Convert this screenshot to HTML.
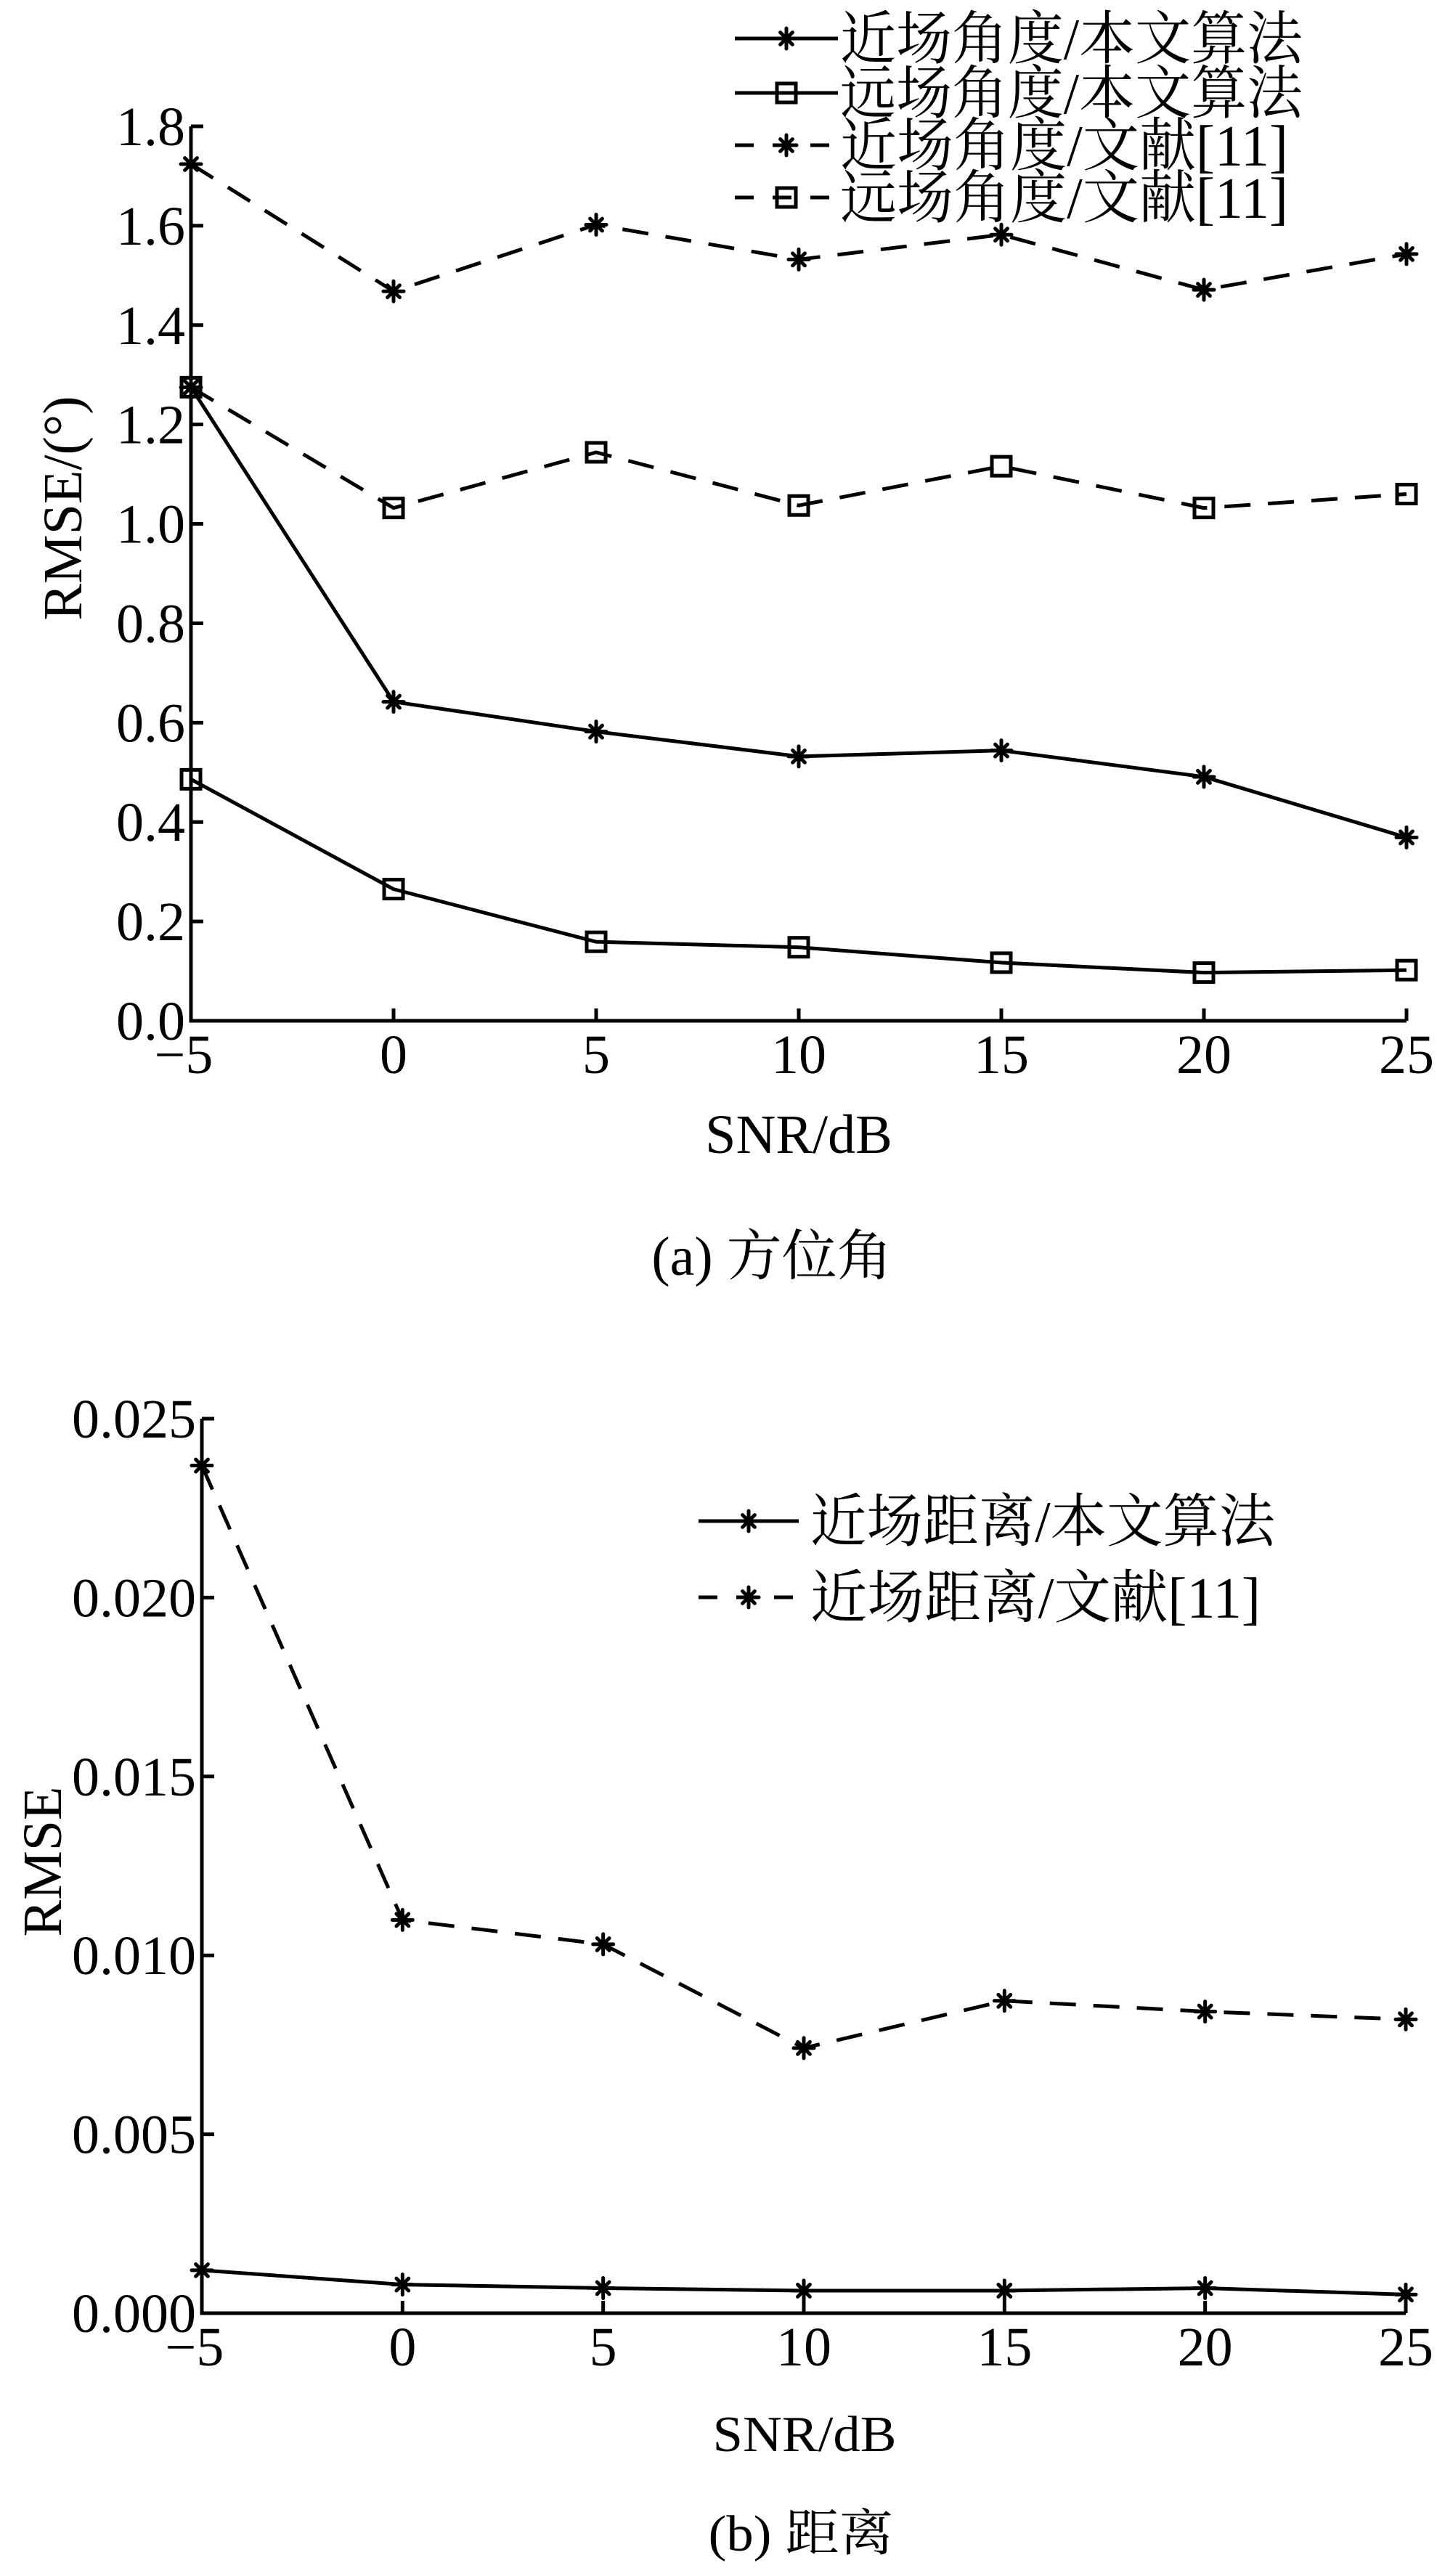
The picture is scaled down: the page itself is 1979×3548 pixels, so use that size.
<!DOCTYPE html>
<html><head><meta charset="utf-8">
<style>
html,body{margin:0;padding:0;background:#fff;}
svg{display:block;}
text{font-family:"Liberation Serif","Noto Serif CJK SC","Noto Sans CJK SC",serif;fill:#000;}
</style></head>
<body>
<svg id="chart" width="1979" height="3548" viewBox="0 0 1979 3548" xmlns="http://www.w3.org/2000/svg"></svg>
<script>
const snr = [-5, 0, 5, 10, 15, 20, 25];
const xTickLabels = ["\u22125", "0", "5", "10", "15", "20", "25"];
// panel a (azimuth)
const nearOursA = [1.275, 0.642, 0.582, 0.532, 0.544, 0.491, 0.369];
const farOursA  = [0.486, 0.265, 0.159, 0.148, 0.117, 0.097, 0.102];
const nearLitA  = [1.724, 1.468, 1.602, 1.532, 1.582, 1.471, 1.543];
const farLitA   = [1.275, 1.032, 1.144, 1.037, 1.116, 1.032, 1.060];
const yTicksA = [0, 0.2, 0.4, 0.6, 0.8, 1.0, 1.2, 1.4, 1.6, 1.8];
const yTickLabelsA = ["0.0","0.2","0.4","0.6","0.8","1.0","1.2","1.4","1.6","1.8"];
// panel b (range)
const nearOursB = [0.0012, 0.0008, 0.0007, 0.00063, 0.00063, 0.0007, 0.00052];
const nearLitB  = [0.02369, 0.01099, 0.01031, 0.00741, 0.00873, 0.00843, 0.00821];
const yTicksB = [0, 0.005, 0.010, 0.015, 0.020, 0.025];
const yTickLabelsB = ["0.000","0.005","0.010","0.015","0.020","0.025"];

const NS = "http://www.w3.org/2000/svg";
const svg = document.getElementById("chart");
function mk(tag, attrs, parent) {
  const e = document.createElementNS(NS, tag);
  for (const k in attrs) e.setAttribute(k, attrs[k]);
  (parent || svg).appendChild(e);
  return e;
}
function star(g, x, y) {
  const s = mk("g", {stroke:"#000","stroke-width":5,"stroke-linecap":"round"}, g);
  
  
  const r = 14;
  mk("line",{x1:x-r,y1:y,x2:x+r,y2:y},s);
  mk("line",{x1:x,y1:y-r,x2:x,y2:y+r},s);
  mk("line",{x1:x-r*0.6,y1:y-r*0.6,x2:x+r*0.6,y2:y+r*0.6},s);
  mk("line",{x1:x-r*0.6,y1:y+r*0.6,x2:x+r*0.6,y2:y-r*0.6},s);
}
function square(g, x, y) {
  const s = mk("rect",{x:x-13,y:y-13,width:26,height:26,fill:"none",stroke:"#000","stroke-width":5},g);
  
  
}

function panel(cfg) {
  const {x0, x1, y0, yTop, yMax, ticks, tickLabels, prefix} = cfg;
  const sx = v => x0 + (v - snr[0]) / (snr[snr.length-1] - snr[0]) * (x1 - x0);
  const sy = v => y0 - v / yMax * (y0 - yTop);
  const ax = mk("g",{stroke:"#000","stroke-width":5,fill:"none"});
  
  
  mk("path",{d:`M${x0} ${yTop} V${y0} H${x1}`},ax);
  ticks.forEach((t,i) => {
    mk("line",{x1:x0,y1:sy(t),x2:x0+17,y2:sy(t)},ax);
    const tl = mk("text",{x:x0-8,y:sy(t)+26,"text-anchor":"end","font-size":76});
    tl.textContent = tickLabels[i];
    
    
  });
  snr.forEach((s,i) => {
    mk("line",{x1:sx(s),y1:y0,x2:sx(s),y2:y0-17},ax);
    const tl = mk("text",{x:sx(s)-(i===0?10:0),y:y0+72,"text-anchor":"middle","font-size":76});
    tl.textContent = xTickLabels[i];
    
    
  });
  cfg.series.forEach(se => {
    const g = mk("g",{});
    
    
    const pts = se.data.map((v,i) => sx(snr[i]) + "," + sy(v)).join(" ");
    const pl = mk("polyline",{points:pts,fill:"none",stroke:"#000","stroke-width":5,"stroke-linejoin":"round"},g);
    if (se.dash) pl.setAttribute("stroke-dasharray","36 24");
    se.data.forEach((v,i) => (se.marker==="star"?star:square)(g, sx(snr[i]), sy(v)));
  });
}

panel({x0:263, x1:1937, y0:1406, yTop:174, yMax:1.8, ticks:yTicksA, tickLabels:yTickLabelsA, prefix:"azimuth",
  series:[
    {name:"near-angle-ours-series", data:nearOursA, marker:"star", dash:false},
    {name:"far-angle-ours-series", data:farOursA, marker:"square", dash:false},
    {name:"near-angle-lit-series", data:nearLitA, marker:"star", dash:true},
    {name:"far-angle-lit-series", data:farLitA, marker:"square", dash:true}
  ]});
panel({x0:278, x1:1936, y0:3186, yTop:1954, yMax:0.025, ticks:yTicksB, tickLabels:yTickLabelsB, prefix:"range",
  series:[
    {name:"near-range-ours-series", data:nearOursB, marker:"star", dash:false},
    {name:"near-range-lit-series", data:nearLitB, marker:"star", dash:true}
  ]});

function legendEntry(x1, x2, y, tx, tw, label, marker, dash, name) {
  const g = mk("g",{});
  
  
  const l = mk("line",{x1:x1,y1:y,x2:x2,y2:y,stroke:"#000","stroke-width":5},g);
  if (dash) l.setAttribute("stroke-dasharray","26 26");
  (marker==="star"?star:square)(g,(x1+x2)/2,y);
  const t = mk("text",{x:tx,y:y+28,"font-size":80,textLength:tw,lengthAdjust:"spacingAndGlyphs"},g);
  t.textContent = label;
}
legendEntry(1012,1154,53,1157,637,"近场角度/本文算法","star",false,"legend-near-angle-ours");
legendEntry(1012,1154,128,1157,637,"远场角度/本文算法","square",false,"legend-far-angle-ours");
legendEntry(1012,1154,200,1157,617,"近场角度/文献[11]","star",true,"legend-near-angle-lit");
legendEntry(1012,1154,272,1157,617,"远场角度/文献[11]","square",true,"legend-far-angle-lit");
legendEntry(962,1100,2095,1116,640,"近场距离/本文算法","star",false,"legend-near-range-ours");
legendEntry(962,1100,2200,1116,620,"近场距离/文献[11]","star",true,"legend-near-range-lit");

function label(txt, x, y, size, name, rot, tw) {
  const t = mk("text",{x:x,y:y,"text-anchor":"middle","font-size":size});
  if (tw) { t.setAttribute("textLength", tw); t.setAttribute("lengthAdjust","spacingAndGlyphs"); }
  if (rot) t.setAttribute("transform",`rotate(-90 ${x} ${y})`);
  t.textContent = txt;
  
  
}
label("SNR/dB", 1100, 1588, 76, "azimuth-x-axis-title");
label("RMSE/(°)", 112, 700, 76, "azimuth-y-axis-title", true);
label("(a) 方位角", 1063, 1756, 76, "azimuth-caption");
label("SNR/dB", 1108, 3376, 70, "range-x-axis-title", false, 253);
label("RMSE", 84, 2564, 76, "range-y-axis-title", true);
label("(b) 距离", 1103, 3513, 70, "range-caption", false, 255);
</script>
</body></html>
